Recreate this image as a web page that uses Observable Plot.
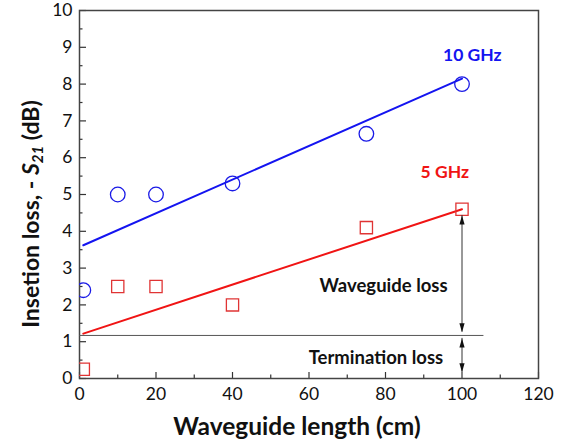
<!DOCTYPE html>
<html><head><meta charset="utf-8">
<script src="https://cdn.jsdelivr.net/npm/d3@7"></script>
<script src="https://cdn.jsdelivr.net/npm/@observablehq/plot@0.6"></script>
<style>body{margin:0;background:#fff}</style>
</head><body><div id="chart"></div>
<script>
// Data
const lengths = [1, 10, 20, 40, 75, 100];
const loss10 = [2.4, 5.0, 5.0, 5.3, 6.65, 8.0];
const loss5 = [0.25, 2.5, 2.5, 2.0, 4.1, 4.6];
const fitX = [1, 100];
const fit10 = [3.62, 8.15];
const fit5 = [1.22, 4.6];
const termLevel = 1.17;
const termLineX = [0, 105.5];
const xTicks = [0, 20, 40, 60, 80, 100, 120];
const xMinor = [10, 30, 50, 70, 90, 110];
const yTicks = [0,1,2,3,4,5,6,7,8,9,10];
const yMinor = [0.5,1.5,2.5,3.5,4.5,5.5,6.5,7.5,8.5,9.5];
const arrowX = 100;
const upTips = [4.43, 1.09];
const downTips = [1.26, 0.17];
const spans = [[4.43, 1.26], [1.09, 0.17]];
const labels = [
  {x: 102.7, y: 8.78, text: "10 GHz", color: "#1414f0", size: 17.5},
  {x: 95.5, y: 5.6, text: "5 GHz", color: "#f01414", size: 17.5},
  {x: 79.5, y: 2.52, text: "Waveguide loss", color: "#111", size: 18.5},
  {x: 77.5, y: 0.55, text: "Termination loss", color: "#111", size: 18.5}
];

const pts10 = lengths.map((x, i) => ({x, y: loss10[i]}));
const pts5 = lengths.map((x, i) => ({x, y: loss5[i]}));
const line10 = fitX.map((x, i) => ({x, y: fit10[i]}));
const line5 = fitX.map((x, i) => ({x, y: fit5[i]}));
const termLine = termLineX.map(x => ({x, y: termLevel}));

const arrowHead = {
  draw(ctx) { ctx.moveTo(0, 0); ctx.lineTo(2.6, 9); ctx.lineTo(-2.6, 9); ctx.closePath(); }
};
const W = 569, H = 444, ML = 79, MR = 31, MT = 10, MB = 66;
const PW = W - ML - MR, PH = H - MT - MB;

const chart = Plot.plot({
  width: W, height: H,
  marginLeft: ML, marginRight: MR, marginTop: MT, marginBottom: MB,
  x: {domain: [0, 120]},
  y: {domain: [0, 10]},
  style: {fontFamily: "Lato, 'Open Sans', sans-serif", fontSize: "17px", background: "#fff", color: "#111"},
  marks: [
    Plot.axisX({ticks: xTicks, tickSize: 0, tickPadding: 9, tickFormat: d => d, label: null, fontSize: 17.5}),
    Plot.axisY({ticks: yTicks, tickSize: 0, tickPadding: 7, tickFormat: d => d, label: null, fontSize: 17.5}),
    Plot.tickX(xTicks, {x: d => d, insetTop: PH - 6, stroke: "#333", strokeWidth: 1.2}),
    Plot.tickX(xMinor, {x: d => d, insetTop: PH - 3.5, stroke: "#333", strokeWidth: 1.2}),
    Plot.tickY(yTicks, {y: d => d, insetRight: PW - 7, stroke: "#333", strokeWidth: 1.2}),
    Plot.tickY(yMinor, {y: d => d, insetRight: PW - 3.5, stroke: "#333", strokeWidth: 1.2}),
    Plot.frame({stroke: "#444", strokeWidth: 1.5}),
    Plot.line(termLine, {x: "x", y: "y", stroke: "#555", strokeWidth: 1}),
    Plot.line(line10, {x: "x", y: "y", stroke: "#1414f0", strokeWidth: 2}),
    Plot.line(line5, {x: "x", y: "y", stroke: "#f01414", strokeWidth: 2}),
    Plot.dot(pts10, {x: "x", y: "y", r: 7.3, stroke: "#1a1ae6", strokeWidth: 1.3, fill: "none", clip: true}),
    Plot.dot(pts5, {x: "x", y: "y", r: 6.9, symbol: "square", stroke: "#e03434", strokeWidth: 1.3, fill: "none", clip: true}),
    Plot.ruleX(spans, {x: () => arrowX, y1: d => d[0], y2: d => d[1], stroke: "#333", strokeWidth: 1}),
    Plot.dot(upTips, {x: () => arrowX, y: d => d, symbol: arrowHead, fill: "#111", stroke: "none"}),
    Plot.dot(downTips, {x: () => arrowX, y: d => d, symbol: arrowHead, rotate: 180, fill: "#111", stroke: "none"}),
    Plot.text(labels, {x: "x", y: "y", text: "text", fill: "color", fontWeight: "bold", fontSize: d => d.size}),
    Plot.text(["Waveguide length (cm)"], {frameAnchor: "bottom", dy: 56, dx: -12, fontSize: 24.5, fontWeight: "bold", fill: "#111"})
  ]
});
document.getElementById("chart").appendChild(chart);

// y-axis title with italic S and subscript 21
const svg = d3.select(chart);
const t = svg.append("text")
  .attr("transform", "translate(33,214) rotate(-90)")
  .attr("text-anchor", "middle")
  .attr("dominant-baseline", "middle")
  .attr("font-family", "Lato, 'Open Sans', sans-serif")
  .attr("font-size", 23)
  .attr("font-weight", "bold")
  .attr("fill", "#111");
t.append("tspan").text("Insetion loss, - ");
t.append("tspan").attr("font-style", "italic").text("S");
t.append("tspan").attr("font-style", "italic").attr("font-size", 15).attr("dy", 6).text("21");
t.append("tspan").attr("dy", -6).text(" (dB)");
</script>
</body></html>
